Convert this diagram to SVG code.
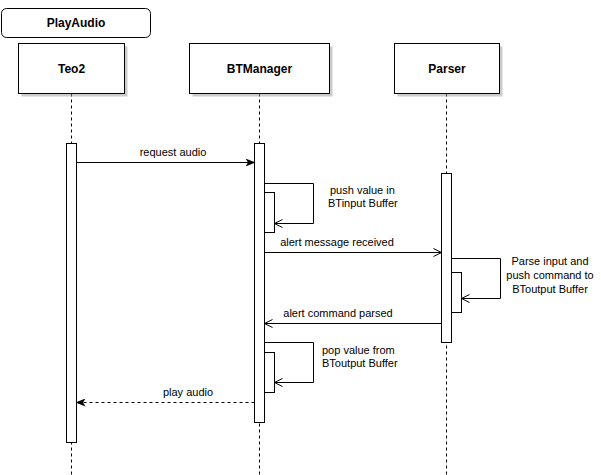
<svg xmlns="http://www.w3.org/2000/svg" width="601" height="475" viewBox="0 0 601 475">
<defs>
<style>
.box{fill:#fff;stroke:#000;stroke-width:1}
.shadow{fill:#999;opacity:0.5}
.life{stroke:#000;stroke-width:1;stroke-dasharray:3,3;fill:none}
.act{fill:#fff;stroke:#000;stroke-width:1}
.msg{stroke:#000;stroke-width:1;fill:none}
.dash{stroke-dasharray:3,3}
.hdr{font-family:"Liberation Sans",Arial,sans-serif;font-size:12px;font-weight:bold;text-anchor:middle;fill:#000}
.lbl{font-family:"Liberation Sans",Arial,sans-serif;font-size:11px;fill:#000}
.mid{text-anchor:middle}
</style>
<marker id="block" viewBox="0 0 10 8" refX="9" refY="4" markerWidth="10" markerHeight="8" markerUnits="userSpaceOnUse" orient="auto">
<path d="M0,0 L10,4 L0,8 L2.5,4 z" fill="#000"/>
</marker>
<marker id="open" viewBox="0 0 10 10" refX="9" refY="5" markerWidth="10" markerHeight="10" markerUnits="userSpaceOnUse" orient="auto">
<path d="M1,1 L9,5 L1,9" fill="none" stroke="#000" stroke-width="1"/>
</marker>
</defs>

<g id="frame-title">
<rect x="1.5" y="8.5" width="149" height="29" rx="5" ry="5" class="box"/>
<text x="76" y="27" class="hdr">PlayAudio</text>
</g>

<g id="lifelines">
<line x1="71.5" y1="93.5" x2="71.5" y2="475" class="life"/>
<line x1="259.5" y1="93.5" x2="259.5" y2="475" class="life"/>
<line x1="446.5" y1="93.5" x2="446.5" y2="475" class="life"/>
</g>

<g id="teo2">
<rect x="21.5" y="46.5" width="106" height="50" class="shadow"/>
<rect x="18.5" y="43.5" width="106" height="50" class="box"/>
<text x="71.5" y="73" class="hdr">Teo2</text>
</g>

<g id="btmanager">
<rect x="192.5" y="46.5" width="140" height="50" class="shadow"/>
<rect x="189.5" y="43.5" width="140" height="50" class="box"/>
<text x="259.5" y="73" class="hdr">BTManager</text>
</g>

<g id="parser">
<rect x="397.5" y="46.5" width="105" height="50" class="shadow"/>
<rect x="394.5" y="43.5" width="105" height="50" class="box"/>
<text x="447" y="73" class="hdr">Parser</text>
</g>

<g id="activations">
<rect x="66.5" y="143.5" width="10" height="299" class="act"/>
<rect x="254.5" y="143.5" width="10" height="279" class="act"/>
<rect x="264.5" y="192.5" width="10" height="40" class="act"/>
<rect x="264.5" y="352.5" width="10" height="40" class="act"/>
<rect x="441.5" y="173.5" width="10" height="169" class="act"/>
<rect x="451.5" y="272.5" width="10" height="40" class="act"/>
</g>

<g id="connectors">
<line x1="76.5" y1="162.5" x2="254.5" y2="162.5" class="msg" marker-end="url(#block)"/>
<polyline points="264.5,183.5 313.5,183.5 313.5,223.5 274.5,223.5" class="msg" marker-end="url(#open)"/>
<line x1="264.5" y1="252.5" x2="441.5" y2="252.5" class="msg" marker-end="url(#open)"/>
<polyline points="451.5,258.5 500.5,258.5 500.5,298.5 461.5,298.5" class="msg" marker-end="url(#open)"/>
<line x1="441.5" y1="323.5" x2="264.5" y2="323.5" class="msg" marker-end="url(#open)"/>
<polyline points="264.5,342.5 313.5,342.5 313.5,382.5 274.5,382.5" class="msg" marker-end="url(#open)"/>
<line x1="254.5" y1="402.5" x2="76.5" y2="402.5" class="msg dash" marker-end="url(#block)"/>
</g>

<g id="labels">
<text x="173" y="156" class="lbl mid">request audio</text>
<text x="330" y="194" class="lbl">push value in</text>
<text x="328" y="207" class="lbl">BTinput Buffer</text>
<text x="337" y="246" class="lbl mid">alert message received</text>
<text x="550" y="265" class="lbl mid">Parse input and</text>
<text x="550" y="279" class="lbl mid">push command to</text>
<text x="550" y="293" class="lbl mid">BToutput Buffer</text>
<text x="338" y="317" class="lbl mid">alert command parsed</text>
<text x="322" y="354" class="lbl">pop value from</text>
<text x="322" y="367" class="lbl">BToutput Buffer</text>
<text x="188" y="396" class="lbl mid">play audio</text>
</g>
</svg>
